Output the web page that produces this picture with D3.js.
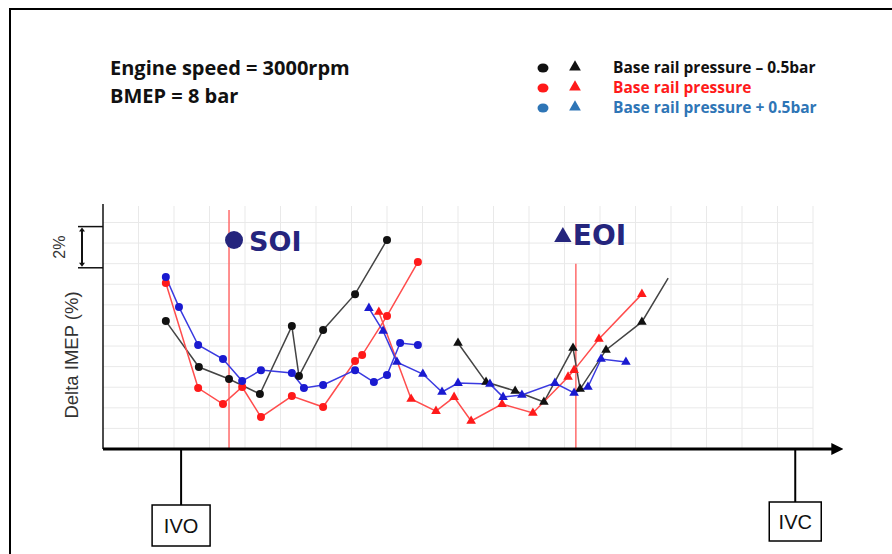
<!DOCTYPE html>
<html>
<head>
<meta charset="utf-8">
<script src="https://cdn.jsdelivr.net/npm/d3@7"></script>
<style>
  body { margin: 0; background: #fff; }
  svg { display: block; }
</style>
</head>
<body>
<svg id="chart" width="892" height="554"></svg>
<script>
// values: [crank position in grid units, delta IMEP %]
var blackCircles = [[1.77,6.21],[2.70,3.98],[3.55,3.40],[4.42,2.67],[5.32,5.97],[5.52,3.54],[6.20,5.78],[7.10,7.52],[8.00,10.15]];
var redCircles = [[1.77,8.06],[2.68,2.96],[3.38,2.18],[3.92,3.01],[4.45,1.55],[5.32,2.57],[6.20,2.04],[7.10,4.27],[7.30,4.56],[8.00,6.46],[8.87,9.08]];
var blueCircles = [[1.77,8.35],[2.14,6.89],[2.68,5.05],[3.38,4.37],[3.92,3.30],[4.45,3.83],[5.32,3.69],[5.66,2.96],[6.20,3.11],[7.10,3.83],[7.63,3.25],[8.00,3.59],[8.37,5.15],[8.87,5.05]];
var blackTriangles = [[10.00,5.15],[10.79,3.25],[11.61,2.82],[12.42,2.28],[13.24,4.90],[13.44,2.91],[14.17,4.81],[15.18,6.17],[15.92,8.30]];
var redTriangles = [[7.77,6.65],[8.68,2.43],[9.38,1.84],[9.89,2.52],[10.37,1.36],[11.24,2.18],[12.11,1.75],[13.10,3.50],[13.27,3.83],[13.97,5.34],[15.18,7.52]];
var blueTriangles = [[7.49,6.84],[7.89,5.73],[8.28,4.22],[9.01,3.64],[9.55,2.77],[10.00,3.20],[10.90,3.16],[11.27,2.52],[11.80,2.62],[12.73,3.20],[13.27,2.72],[13.66,3.01],[14.03,4.37],[14.73,4.22]];

var soiPos = 3.55, eoiPos = 13.32;
var ivoPos = 2.20, ivcPos = 19.50;
var legendLabels = ["Base rail pressure \u2013 0.5bar", "Base rail pressure", "Base rail pressure + 0.5bar"];
var legendColors = ["#111111", "#ff1a1a", "#2e75b6"];

var svg = d3.select("#chart");

var x = d3.scaleLinear().domain([0, 20]).range([103, 813]);
var y = d3.scaleLinear().domain([0, 11.8]).range([449, 206]);

// frame
svg.append("path")
  .attr("d", "M10,554 L10,9 L892,9")
  .attr("fill", "none").attr("stroke", "#000").attr("stroke-width", 2);

// grid
var grid = svg.append("g").attr("stroke", "#e9e9e9").attr("stroke-width", 1);
grid.selectAll("line.v").data(d3.range(1, 21)).enter().append("line")
  .attr("x1", d => x(d)).attr("x2", d => x(d))
  .attr("y1", y(11.8)).attr("y2", y(0));
grid.selectAll("line.h").data(d3.range(1, 12)).enter().append("line")
  .attr("x1", x(0)).attr("x2", x(20))
  .attr("y1", d => y(d)).attr("y2", d => y(d));

// SOI / EOI marker lines
svg.append("line").attr("x1", x(soiPos)).attr("x2", x(soiPos))
  .attr("y1", y(11.6)).attr("y2", y(0))
  .attr("stroke", "#ff6b6b").attr("stroke-width", 1.5);
svg.append("line").attr("x1", x(eoiPos)).attr("x2", x(eoiPos))
  .attr("y1", y(9.0)).attr("y2", y(0))
  .attr("stroke", "#ff6b6b").attr("stroke-width", 1.5);

// y axis line
svg.append("line").attr("x1", x(0)).attr("x2", x(0))
  .attr("y1", y(11.9)).attr("y2", y(0))
  .attr("stroke", "#111").attr("stroke-width", 1.5);

// x axis with arrow
svg.append("defs").append("marker")
  .attr("id", "arrow").attr("viewBox", "0 0 10 10")
  .attr("refX", 1).attr("refY", 5)
  .attr("markerWidth", 4).attr("markerHeight", 4.4)
  .attr("orient", "auto")
  .append("path").attr("d", "M0,0 L10,5 L0,10 Z").attr("fill", "#000");
svg.append("line").attr("x1", x(0)).attr("x2", x(20.55))
  .attr("y1", y(0)).attr("y2", y(0))
  .attr("stroke", "#000").attr("stroke-width", 3)
  .attr("marker-end", "url(#arrow)");

// 2% bracket
var bTop = y(10.8), bBot = y(8.8);
var br = svg.append("g").attr("stroke", "#111").attr("stroke-width", 1.5);
br.append("line").attr("x1", 78).attr("x2", x(0)).attr("y1", bTop).attr("y2", bTop);
br.append("line").attr("x1", 78).attr("x2", x(0)).attr("y1", bBot).attr("y2", bBot);
br.append("line").attr("x1", 82).attr("x2", 82).attr("y1", bTop + 3).attr("y2", bBot - 3).attr("stroke-width", 2);
svg.append("path").attr("d", `M79,${bTop + 5} L82,${bTop + 1} L85,${bTop + 5} Z M79,${bBot - 5} L82,${bBot - 1} L85,${bBot - 5} Z`).attr("fill", "#111");
svg.append("text").text("2%")
  .attr("transform", `translate(65,${(bTop + bBot) / 2}) rotate(-90)`)
  .attr("text-anchor", "middle")
  .attr("font-family", "Liberation Sans, Arial").attr("font-size", 16).attr("fill", "#333");

svg.append("text").text("Delta IMEP (%)")
  .attr("transform", "translate(78,355) rotate(-90)")
  .attr("text-anchor", "middle")
  .attr("font-family", "Liberation Sans, Arial").attr("font-size", 18.5).attr("fill", "#333");

// IVO / IVC boxes
function valveBox(pos, label, top, w, h) {
  var cx = x(pos);
  svg.append("line").attr("x1", cx).attr("x2", cx).attr("y1", y(0)).attr("y2", top)
    .attr("stroke", "#000").attr("stroke-width", 2);
  svg.append("rect").attr("x", cx - w / 2).attr("y", top).attr("width", w).attr("height", h)
    .attr("fill", "#fff").attr("stroke", "#000").attr("stroke-width", 1.5);
  svg.append("text").text(label).attr("x", cx).attr("y", top + h / 2 + 7)
    .attr("text-anchor", "middle")
    .attr("font-family", "Liberation Sans, Arial").attr("font-size", 20).attr("fill", "#111");
}
valveBox(ivoPos, "IVO", 505, 58, 41);
valveBox(ivcPos, "IVC", 502, 52, 39);

// series
var series = [
  { pts: blackCircles, shape: "circle", color: "#111", line: "#444" },
  { pts: redCircles, shape: "circle", color: "#ff1a1a", line: "#ff4d4d" },
  { pts: blueCircles, shape: "circle", color: "#1a1ad0", line: "#3a3ae0" },
  { pts: blackTriangles, shape: "tri", color: "#111", line: "#444", skipLast: true },
  { pts: redTriangles, shape: "tri", color: "#ff1a1a", line: "#ff4d4d" },
  { pts: blueTriangles, shape: "tri", color: "#1a1ad0", line: "#3a3ae0" }
];

var lineGen = d3.line().x(d => x(d[0])).y(d => y(d[1]));

series.forEach(function(s) {
  svg.append("path").datum(s.pts)
    .attr("d", lineGen)
    .attr("fill", "none")
    .attr("stroke", s.line)
    .attr("stroke-width", 1.5);
});

series.forEach(function(s) {
  var pts = s.skipLast ? s.pts.slice(0, -1) : s.pts;
  var g = svg.append("g");
  if (s.shape == "circle") {
    g.selectAll("circle").data(pts).enter().append("circle")
      .attr("cx", d => x(d[0])).attr("cy", d => y(d[1]))
      .attr("r", 4).attr("fill", s.color);
  } else {
    g.selectAll("path").data(pts).enter().append("path")
      .attr("d", d3.symbol(d3.symbolTriangle, 40))
      .attr("transform", d => `translate(${x(d[0])},${y(d[1])})`)
      .attr("fill", s.color);
  }
});

// SOI / EOI labels
var navy = "#25257d";
svg.append("circle").attr("cx", x(soiPos) + 5).attr("cy", 240).attr("r", 9).attr("fill", navy);
svg.append("text").text("SOI").attr("x", x(soiPos) + 20).attr("y", 251)
  .attr("font-family", "DejaVu Sans, sans-serif").attr("font-weight", "bold")
  .attr("font-size", 27).attr("fill", navy);
svg.append("path").attr("d", d3.symbol(d3.symbolTriangle, 130))
  .attr("transform", `translate(${x(eoiPos) - 13},237)`).attr("fill", navy);
svg.append("text").text("EOI").attr("x", x(eoiPos) - 3).attr("y", 245)
  .attr("font-family", "DejaVu Sans, sans-serif").attr("font-weight", "bold")
  .attr("font-size", 28).attr("fill", navy);

// header text
svg.append("text").text("Engine speed = 3000rpm").attr("x", 110).attr("y", 75)
  .attr("font-family", "Open Sans, sans-serif").attr("font-weight", "bold")
  .attr("font-size", 20).attr("fill", "#111");
svg.append("text").text("BMEP = 8 bar").attr("x", 110).attr("y", 103)
  .attr("font-family", "Open Sans, sans-serif").attr("font-weight", "bold")
  .attr("font-size", 20).attr("fill", "#111");

// legend
var leg = svg.append("g");
legendLabels.forEach(function(lab, i) {
  var ly = 68 + i * 20;
  leg.append("ellipse").attr("cx", 543).attr("cy", ly).attr("rx", 5.5).attr("ry", 4.5).attr("fill", legendColors[i]);
  leg.append("path").attr("d", d3.symbol(d3.symbolTriangle, 60))
    .attr("transform", `translate(575,${ly - 1})`).attr("fill", legendColors[i]);
  leg.append("text").text(lab).attr("x", 613).attr("y", ly + 5)
    .attr("font-family", "Open Sans, sans-serif").attr("font-weight", "bold")
    .attr("font-size", 15.5).attr("fill", legendColors[i]);
});
</script>
</body>
</html>
